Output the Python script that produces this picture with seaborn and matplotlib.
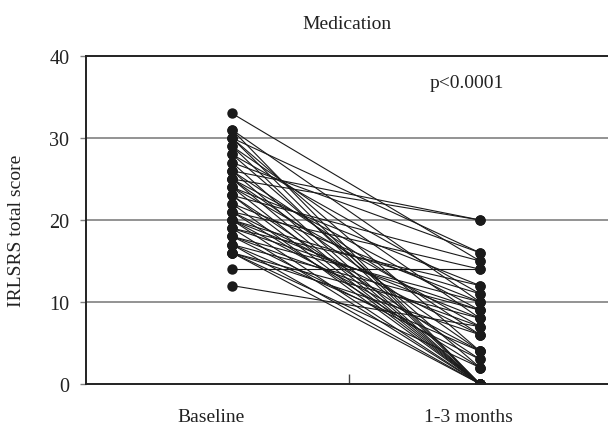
import pandas as pd
import numpy as np
from matplotlib import pyplot as plt
import seaborn as sns
import matplotlib
matplotlib.use('Agg')

# Paired IRLSRS scores (one entry per patient)
baseline = [33, 31, 31, 30, 30, 30, 29, 29, 28, 28, 27, 27, 26, 26, 26,
            25, 25, 25, 25, 24, 24, 24, 23, 23, 23, 22, 22, 21, 21, 21,
            20, 20, 20, 20, 19, 19, 19, 18, 18, 18, 17, 17, 17, 16, 16,
            16, 16, 14, 12]
followup = [15, 0, 10, 4, 0, 16, 8, 0, 11, 2, 16, 0, 20, 6, 0,
            20, 9, 0, 4, 12, 7, 0, 15, 3, 0, 10, 0, 14, 6, 2,
            11, 8, 0, 4, 12, 9, 0, 10, 7, 3, 9, 0, 4, 8, 6,
            0, 2, 14, 7]
time_labels = ['Baseline', '1-3 months']
y_ticks = [0, 10, 20, 30, 40]

n = len(baseline)
df = pd.DataFrame({
    'subject': list(range(n)) * 2,
    'time': [0] * n + [1] * n,
    'score': baseline + followup,
})

sns.set_style('white')
plt.rcParams['font.family'] = ['Liberation Serif', 'DejaVu Serif']
txt = '#222222'

fig = plt.figure(figsize=(6.08, 4.27), dpi=100)
ax = fig.add_axes([0.1414, 0.0984, 0.8586, 0.7681])

# gridlines first so the lines sit on top
for v in y_ticks[1:-1]:
    ax.axhline(v, color='#808080', lw=1.2, zorder=0)

sns.lineplot(data=df, x='time', y='score', units='subject', estimator=None,
             color='#1a1a1a', lw=0.8, marker='o', markersize=7.5,
             markeredgewidth=0, ax=ax, legend=False)

ax.set_xlim(-0.589, 1.516)
ax.set_ylim(0, 40)
ax.set_yticks(y_ticks)
# category labels sit a little left of the point columns
ax.set_xticks([-0.085, 0.952])
ax.set_xticklabels(time_labels, fontsize=14, color=txt)
ax.tick_params(axis='x', length=0, pad=17)
ax.tick_params(axis='y', labelsize=14.5, length=4, width=1, color='#808080',
               left=True, pad=8, labelcolor=txt)
ax.set_xticks([0.472], minor=True)
ax.tick_params(axis='x', which='minor', direction='in', length=7, width=1,
               color='#444444', bottom=True)

for side in ['top', 'bottom', 'left']:
    ax.spines[side].set_color('#222222')
    ax.spines[side].set_linewidth(1.4)
ax.spines['right'].set_visible(False)

ax.set_xlabel('')
ax.set_ylabel('IRLSRS total score', fontsize=14, color=txt)
ax.yaxis.set_label_coords(-0.117, 0.47)
ax.set_title('Medication', fontsize=14, color=txt, pad=20)
ax.text(0.945, 36.8, 'p<0.0001', fontsize=14, color=txt,
        ha='center', va='center')

plt.savefig('out.png', dpi=100)
plt.close()
